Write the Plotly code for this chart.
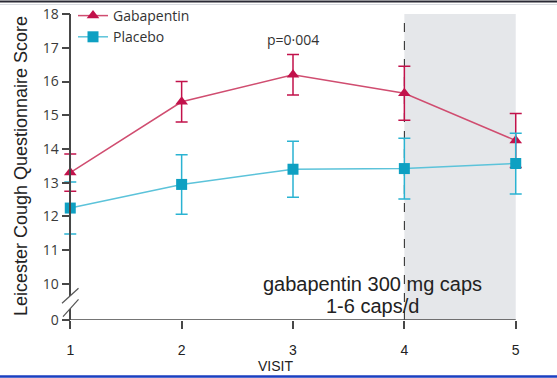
import plotly.graph_objects as go

# Visits and mean Leicester Cough Questionnaire scores (with error-bar half widths)
visits = [1, 2, 3, 4, 5]
gabapentin = [13.3, 15.4, 16.2, 15.65, 14.25]
gabapentin_err = [0.55, 0.6, 0.6, 0.8, 0.8]
placebo = [12.25, 12.95, 13.4, 13.42, 13.57]
placebo_err = [0.77, 0.88, 0.83, 0.9, 0.9]

y_ticklabels = ["0", "10", "11", "12", "13", "14", "15", "16", "17", "18"]
x_ticklabels = ["1", "2", "3", "4", "5"]

# The y axis is broken between 0 and 10; "0" sits a short step below 10
ZERO = 8.933
y_tickvals = [ZERO] + list(range(10, 19))

RED = "#c2124b"
RED_LINE = "#d04d70"
CYAN = "#0ea0c2"
CYAN_LINE = "#5cc3da"
AXIS = "#474747"

fig = go.Figure()

fig.add_trace(go.Scatter(
    x=visits, y=gabapentin, name="Gabapentin", mode="lines+markers",
    line=dict(color=RED_LINE, width=1.5),
    marker=dict(symbol="triangle-up", size=11, color=RED),
    error_y=dict(type="data", array=gabapentin_err, color=RED, thickness=1.5, width=6),
))
fig.add_trace(go.Scatter(
    x=visits, y=placebo, name="Placebo", mode="lines+markers",
    line=dict(color=CYAN_LINE, width=1.5),
    marker=dict(symbol="square", size=11, color=CYAN),
    error_y=dict(type="data", array=placebo_err, color="#2ab3d2", thickness=1.5, width=6),
))

shapes = [
    # shaded open-label period
    dict(type="rect", xref="x", yref="y", x0=4, x1=5, y0=ZERO, y1=18,
         fillcolor="#e5e7ea", line=dict(width=0), layer="below"),
    # dashed divider at visit 4
    dict(type="line", xref="x", yref="y", x0=4, x1=4, y0=ZERO, y1=18,
         line=dict(color="#222", width=1, dash="dash"), layer="below"),
    # x axis line from visit 1 to visit 5
    dict(type="line", xref="x", yref="y", x0=1, x1=5, y0=ZERO, y1=ZERO,
         line=dict(color=AXIS, width=1.5)),
    # axis break: white gap and two slashes
    dict(type="path", xref="x", yref="y",
         path="M0.926,9.428 L1.074,9.873 L1.074,9.547 L0.935,9.031 Z",
         fillcolor="white", line=dict(width=0), layer="above"),
    dict(type="line", xref="x", yref="y", x0=0.926, y0=9.428, x1=1.074, y1=9.873,
         line=dict(color="#555", width=1.2)),
    dict(type="line", xref="x", yref="y", x0=0.935, y0=9.031, x1=1.074, y1=9.547,
         line=dict(color="#555", width=1.2)),
    # page rules
    dict(type="line", xref="paper", yref="paper", x0=-0.1, x1=1.05, y0=1.0408, y1=1.0408,
         line=dict(color="#2a2a35", width=2)),
    dict(type="line", xref="paper", yref="paper", x0=-0.1, x1=1.05, y0=1.0310, y1=1.0310,
         line=dict(color="#d8dbe0", width=1)),
    dict(type="line", xref="paper", yref="paper", x0=-0.1, x1=1.05, y0=-0.1846, y1=-0.1846,
         line=dict(color="#1b3fc0", width=2.5)),
]

annotations = [
    dict(text="p=0·004", x=3, y=17.23, xref="x", yref="y", showarrow=False,
         font=dict(family="Open Sans", size=14, color="#333")),
    dict(text="gabapentin 300 mg caps", x=3.717, y=9.99, xref="x", yref="y",
         showarrow=False, font=dict(family="Liberation Sans", size=20, color="#222")),
    dict(text="1-6 caps/d", x=3.717, y=9.34, xref="x", yref="y",
         showarrow=False, font=dict(family="Liberation Sans", size=20, color="#222")),
    dict(text="VISIT", x=(275 - 48) / 490, y=(320 - 366) / 306, xref="paper", yref="paper",
         xanchor="center", yanchor="middle", showarrow=False,
         font=dict(family="Liberation Sans", size=14, color="#222")),
    dict(text="Leicester Cough Questionnaire Score", x=(21 - 48) / 490, y=0.503,
         xref="paper", yref="paper", textangle=-90, xanchor="center", yanchor="middle",
         showarrow=False, font=dict(family="Liberation Sans", size=18, color="#222")),
]

fig.update_layout(
    width=557, height=378,
    margin=dict(l=48, r=19, t=14, b=58, autoexpand=False),
    paper_bgcolor="white", plot_bgcolor="white",
    showlegend=True,
    legend=dict(x=(73 - 48) / 490, y=1.012, xref="paper", yref="container",
                xanchor="left", yanchor="top",
                bgcolor="rgba(0,0,0,0)", tracegroupgap=0,
                font=dict(family="Open Sans", size=14, color="#333")),
    shapes=shapes,
    annotations=annotations,
    xaxis=dict(range=[0.8, 5.2], tickvals=visits, ticktext=x_ticklabels,
               showgrid=False, zeroline=False, showline=False,
               ticks="outside", ticklen=8, tickwidth=1.5, tickcolor=AXIS,
               ticklabelstandoff=9,
               tickfont=dict(family="Liberation Sans", size=14, color="#222")),
    yaxis=dict(range=[ZERO, 18], tickvals=y_tickvals, ticktext=y_ticklabels,
               anchor="free", position=0.2 / 4.4,
               showgrid=False, zeroline=False, showline=True, linecolor=AXIS, linewidth=1.5,
               ticks="outside", ticklen=8, tickwidth=1.5, tickcolor=AXIS,
               tickfont=dict(family="Open Sans", size=14, color="#3a3a3a")),
)

fig.write_html("out.html")
